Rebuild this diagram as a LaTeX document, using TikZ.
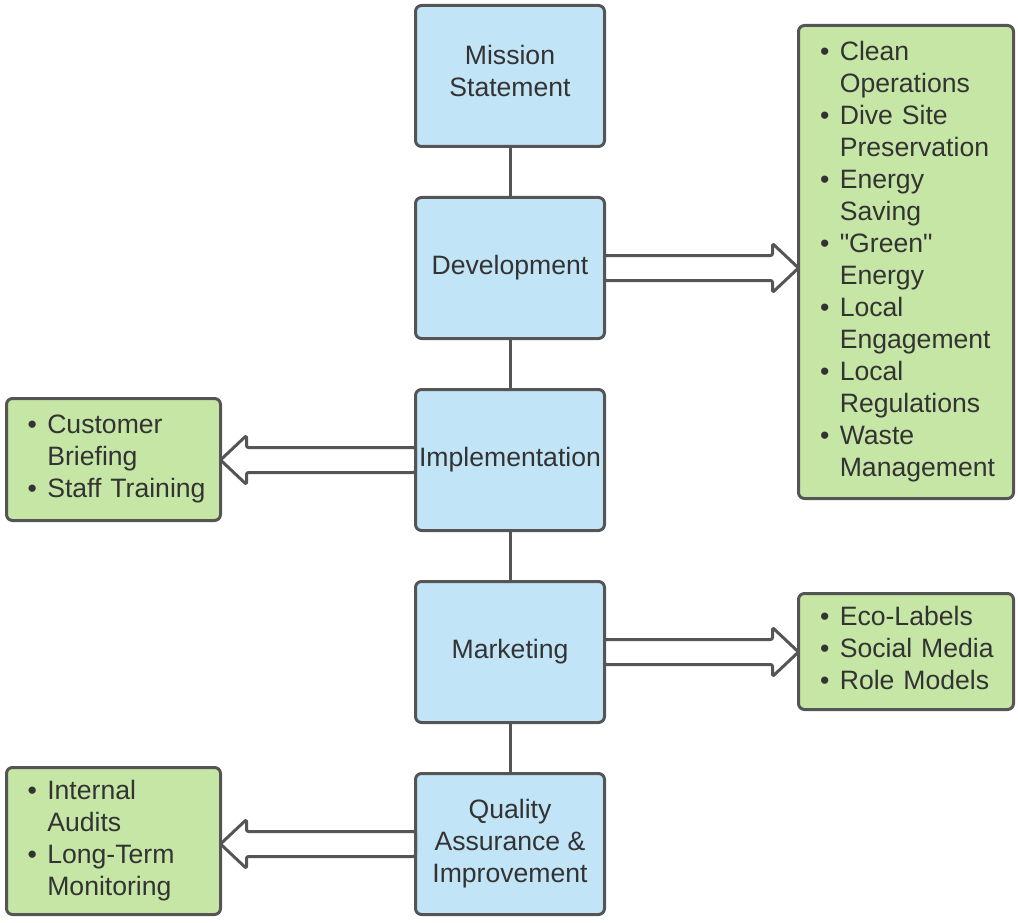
\documentclass[tikz,border=0pt]{standalone}
\usepackage{fontspec}
\setmainfont{Liberation Sans}[Ligatures=TeXOff]
\usepackage{tikz}
\usepackage{xcolor}
\usetikzlibrary{calc,positioning}
\definecolor{boxblue}{HTML}{C1E4F6}
\definecolor{boxgreen}{HTML}{C6E6A6}
\definecolor{edgegray}{HTML}{555555}
\definecolor{ink}{HTML}{333333}
\tikzset{%
	stage/.style    = {draw=edgegray, fill=boxblue, line width=3pt, rounded corners=6pt, minimum width=189pt, minimum height=141pt, align=center, text=ink, outer sep=0pt, font=\fontsize{26.6pt}{32pt}\selectfont},
	topics/.style   = {draw=edgegray, fill=boxgreen, line width=3pt, rounded corners=6pt, text=ink, outer sep=0pt, inner sep=0pt, text width=172pt, align=left, font=\fontsize{26.6pt}{32pt}\selectfont},
	link/.style     = {draw=edgegray, line width=3pt},
	blockarrow/.style = {draw=edgegray, fill=white, line width=3pt, rounded corners=2pt, line join=round},
}
% hollow block arrow from #1 to the tip #2
\newcommand{\blockarrow}[2]{%
	\draw[blockarrow] let \p1=(#1), \p2=(#2), \n1={sign(\x2-\x1)} in
	(\x1,\y1+12.5pt) -- (\x2-26pt*\n1,\y1+12.5pt) -- (\x2-26pt*\n1,\y1+24.5pt) -- (\x2,\y1)
	-- (\x2-26pt*\n1,\y1-24.5pt) -- (\x2-26pt*\n1,\y1-12.5pt) -- (\x1,\y1-12.5pt) -- cycle;}
\newcommand{\bul}{\textbullet}

\begin{document}
\begin{tikzpicture}[x=1pt,y=-1pt]
	\useasboundingbox (0,0) rectangle (1018,923);
	
	% stages
	\node[stage] (mission) at (510,76) {Mission\\Statement\\[-22pt]};
	\node[stage, below=51pt of mission] (dev) {Development};
	\node[stage, below=51pt of dev] (impl) {Implementation};
	\node[stage, below=51pt of impl] (mkt) {Marketing};
	\node[stage, below=51pt of mkt] (qa) {Quality\\Assurance \&\\Improvement};
	
	\draw[link] (mission) -- (dev);
	\draw[link] (dev) -- (impl);
	\draw[link] (impl) -- (mkt);
	\draw[link] (mkt) -- (qa);
	
	% topic lists
	\node[topics, minimum width=215pt, minimum height=473pt] (devlist) at (906,262) {%
		\begin{tabular}{@{}l@{\hspace{10.5pt}}l@{}}
			\bul & Clean\\ & Operations\\
			\bul & Dive Site\\ & Preservation\\
			\bul & Energy\\ & Saving\\
			\bul & "Green"\\ & Energy\\
			\bul & Local\\ & Engagement\\
			\bul & Local\\ & Regulations\\
			\bul & Waste\\ & Management
		\end{tabular}};
	\node[topics, minimum width=214pt, minimum height=122pt] (impllist) at (113.5,459.5) {%
		\begin{tabular}{@{}l@{\hspace{10.5pt}}l@{}}
			\bul & Customer\\ & Briefing\\
			\bul & Staff Training
		\end{tabular}};
	\node[topics, minimum width=215pt, minimum height=116pt] (mktlist) at (906,651.5) {%
		\begin{tabular}{@{}l@{\hspace{10.5pt}}l@{}}
			\bul & Eco-Labels\\
			\bul & Social Media\\
			\bul & Role Models
		\end{tabular}};
	\node[topics, minimum width=214pt, minimum height=147pt] (qalist) at (113.5,841) {%
		\begin{tabular}{@{}l@{\hspace{10.5pt}}l@{}}
			\bul & Internal\\ & Audits\\
			\bul & Long-Term\\ & Monitoring
		\end{tabular}};
	
	% arrows
	\blockarrow{dev.east}{devlist.west |- dev.east}
	\blockarrow{impl.west}{impllist.east |- impl.west}
	\blockarrow{mkt.east}{mktlist.west |- mkt.east}
	\blockarrow{qa.west}{qalist.east |- qa.west}
	
\end{tikzpicture}
\end{document}
